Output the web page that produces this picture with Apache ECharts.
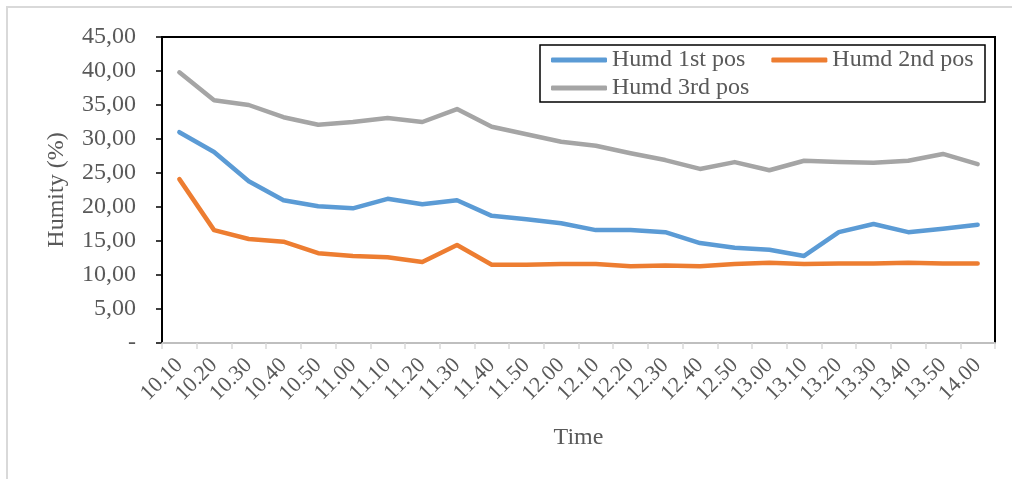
<!DOCTYPE html>
<html>
<head>
<meta charset="utf-8">
<script src="https://cdn.jsdelivr.net/npm/echarts@6/dist/echarts.min.js"></script>
<style>
  html, body { margin: 0; padding: 0; background: #fff; }
  #chart { width: 1012px; height: 479px; }
</style>
</head>
<body>
<div id="chart"></div>
<script>
// time stamps on the x axis
const times = ['10.10','10.20','10.30','10.40','10.50','11.00','11.10','11.20','11.30','11.40','11.50','12.00',
               '12.10','12.20','12.30','12.40','12.50','13.00','13.10','13.20','13.30','13.40','13.50','14.00'];
const humd1 = [31.0, 28.1, 23.8, 21.0, 20.1, 19.8, 21.2, 20.4, 21.0, 18.7, 18.2, 17.6,
               16.6, 16.6, 16.3, 14.7, 14.0, 13.7, 12.8, 16.3, 17.5, 16.3, 16.8, 17.4];
const humd2 = [24.1, 16.6, 15.3, 14.9, 13.2, 12.8, 12.6, 11.9, 14.4, 11.5, 11.5, 11.6,
               11.6, 11.3, 11.4, 11.3, 11.6, 11.8, 11.6, 11.7, 11.7, 11.8, 11.7, 11.7];
const humd3 = [39.8, 35.7, 35.0, 33.2, 32.1, 32.5, 33.1, 32.5, 34.4, 31.8, 30.7, 29.6,
               29.0, 27.9, 26.9, 25.6, 26.6, 25.4, 26.8, 26.6, 26.5, 26.8, 27.8, 26.3];

const font = 'Liberation Serif';
const grey = '#595959';

const chart = echarts.init(document.getElementById('chart'));

function line(name, data, color) {
  return {
    name: name,
    type: 'line',
    data: data,
    symbol: 'none',
    lineStyle: { width: 4.5, color: color, cap: 'round', join: 'round' },
    itemStyle: { color: color }
  };
}

// two legend blocks share one drawn frame
const legendBase = {
  padding: 0,
  itemGap: 26,
  itemWidth: 56, itemHeight: 5,
  icon: 'roundRect',
  textStyle: { fontFamily: font, fontSize: 24, color: grey }
};

chart.setOption({
  animation: false,
  graphic: [{
    type: 'rect',
    shape: { x: 7, y: 7, width: 1100, height: 600 },
    style: { fill: 'none', stroke: '#d9d9d9', lineWidth: 2 },
    silent: true,
    z: -1
  }, {
    type: 'rect',
    shape: { x: 540, y: 45, width: 445, height: 57 },
    style: { fill: '#fff', stroke: '#000', lineWidth: 1.5 },
    silent: true,
    z: 1
  }],
  grid: {
    left: 162, right: 17, top: 37, bottom: 136,
    show: true, borderColor: '#000', borderWidth: 2
  },
  legend: [
    Object.assign({ left: 551, top: 48, data: ['Humd 1st pos', 'Humd 2nd pos'] }, legendBase),
    Object.assign({ left: 551, top: 76, data: ['Humd 3rd pos'] }, legendBase)
  ],
  xAxis: {
    type: 'category',
    data: times,
    boundaryGap: true,
    name: 'Time',
    nameLocation: 'middle',
    nameGap: 83,
    nameTextStyle: { fontFamily: font, fontSize: 24, color: grey },
    axisLine: { lineStyle: { color: '#bfbfbf', width: 2 } },
    axisTick: { show: true, length: 6, lineStyle: { color: '#d9d9d9', width: 1.5 } },
    axisLabel: { rotate: 45, margin: 19, fontFamily: font, fontSize: 22, color: grey, interval: 0 }
  },
  yAxis: {
    type: 'value',
    min: 0, max: 45, interval: 5,
    name: 'Humity (%)',
    nameLocation: 'middle',
    nameGap: 93,
    nameTextStyle: { fontFamily: font, fontSize: 24, color: grey },
    splitLine: { show: false },
    axisLine: { show: true, lineStyle: { color: '#000', width: 2 } },
    axisTick: { show: true, length: 6, lineStyle: { color: '#000', width: 1.5 } },
    axisLabel: {
      margin: 26, fontFamily: font, fontSize: 24, color: grey,
      formatter: v => v === 0 ? '-' : v.toFixed(2).replace('.', ',')
    }
  },
  series: [
    line('Humd 1st pos', humd1, '#5b9bd5'),
    line('Humd 2nd pos', humd2, '#ed7d31'),
    line('Humd 3rd pos', humd3, '#a5a5a5')
  ]
});
</script>
</body>
</html>
